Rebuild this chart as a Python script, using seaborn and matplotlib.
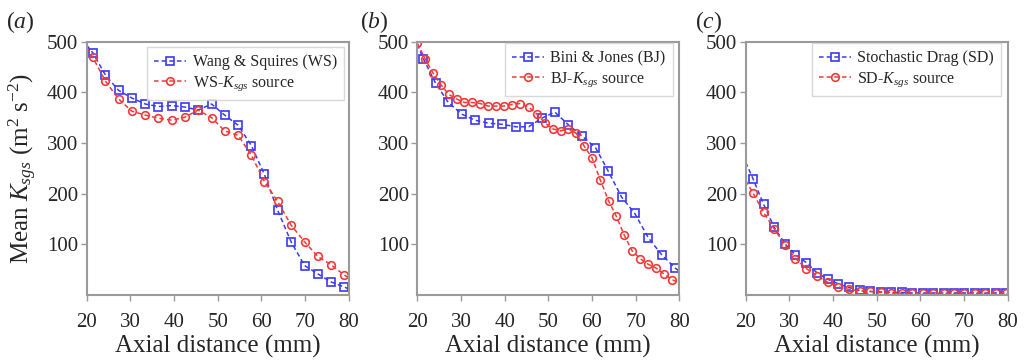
import matplotlib
matplotlib.use("Agg")
import matplotlib.pyplot as plt
import seaborn as sns

sns.set_style("white")
plt.rcParams['font.family'] = ['Liberation Serif', 'DejaVu Serif']
plt.rcParams['mathtext.fontset'] = 'custom'
plt.rcParams['mathtext.rm'] = 'Liberation Serif'
plt.rcParams['mathtext.it'] = 'Liberation Serif:italic'

# ---------------- data ----------------
# Panel (a): Wang & Squires
a_ws_x = [20.0, 21.4, 24.3, 27.3, 30.3, 33.4, 36.4, 39.5, 42.5, 45.5, 48.6, 51.6, 54.7, 57.7, 60.7, 63.7, 66.8, 69.9, 72.9, 75.9, 78.9, 80.0]
a_ws_y = [493, 478, 434, 404, 389, 377, 372, 374, 371, 365, 377, 355, 335, 295, 238, 168, 105, 58, 42, 26, 16, 12]
a_src_x = [20.0, 21.4, 24.3, 27.3, 30.3, 33.4, 36.4, 39.5, 42.5, 45.5, 48.6, 51.6, 54.7, 57.7, 60.7, 63.7, 66.8, 69.9, 72.9, 75.9, 78.9, 80.0]
a_src_y = [488, 469, 422, 387, 363, 355, 349, 345, 351, 365, 350, 324, 315, 276, 224, 185, 138, 105, 76, 60, 40, 34]

# Panel (b): Bini & Jones
b_bj_x = [20.0, 21.4, 24.2, 27.1, 30.2, 33.2, 36.4, 39.4, 42.6, 45.5, 48.5, 51.5, 54.6, 57.7, 60.8, 63.7, 66.8, 69.8, 72.9, 76.0, 79.1, 80.0]
b_bj_y = [495, 466, 418, 380, 357, 345, 339, 337, 332, 332, 349, 361, 336, 314, 291, 245, 193, 161, 113, 79, 53, 47]
b_src_x = [20.0, 21.8, 23.6, 25.4, 27.2, 29.0, 30.8, 32.6, 34.4, 36.2, 38.0, 39.9, 41.7, 43.6, 45.5, 47.4, 49.2, 51.0, 52.8, 54.6, 56.4, 58.2, 60.0, 61.9, 63.8, 65.6, 67.4, 69.2, 71.0, 72.8, 74.7, 76.6, 78.4, 80.0]
b_src_y = [497, 466, 438, 415, 396, 387, 380, 380, 378, 373, 373, 373, 376, 378, 371, 357, 340, 328, 324, 328, 319, 294, 271, 227, 186, 155, 118, 87, 72, 61, 53, 41, 30, 24]

# Panel (c): Stochastic Drag
c_sd_x = [20.0, 21.7, 24.1, 26.5, 29.0, 31.4, 33.9, 36.3, 38.8, 41.2, 43.6, 46.1, 48.5, 50.9, 53.3, 55.7, 58.1, 60.5, 62.9, 65.3, 67.7, 70.1, 72.5, 74.9, 77.3, 79.7, 80.0]
c_sd_y = [262, 229, 179, 134, 101, 79, 64, 44, 31, 22, 15, 9, 7, 6, 5, 5, 4, 4, 4, 4, 4, 4, 4, 4, 4, 4, 4]
c_src_x = [20.0, 21.7, 24.1, 26.5, 29.0, 31.4, 33.9, 36.3, 38.8, 41.2, 43.6, 46.1, 48.5, 50.9, 53.3, 55.7, 58.1, 60.5, 62.9, 65.3, 67.7, 70.1, 72.5, 74.9, 77.3, 79.7, 80.0]
c_src_y = [226, 201, 163, 131, 99, 72, 52, 38, 25, 16, 11, 8, 7, 5, 4, 3, 3, 3, 3, 3, 3, 3, 3, 3, 3, 3, 3]

panel_letters = ["a", "b", "c"]
model_labels = ["Wang & Squires (WS)", "Bini & Jones (BJ)", "Stochastic Drag (SD)"]
source_labels = ["WS-$K_{sgs}$ source", "BJ-$K_{sgs}$ source", "SD-$K_{sgs}$ source"]
model_x = [a_ws_x, b_bj_x, c_sd_x]
model_y = [a_ws_y, b_bj_y, c_sd_y]
source_x = [a_src_x, b_src_x, c_src_x]
source_y = [a_src_y, b_src_y, c_src_y]

x_ticks = [20, 30, 40, 50, 60, 70, 80]
y_ticks = [100, 200, 300, 400, 500]

BLUE = "#3a3af0"
RED = "#f03a3a"
SPINE = "#9a9a9a"

fig = plt.figure(figsize=(10.24, 3.63), dpi=100)
lefts = [86.7 / 1024, 417.3 / 1024, 745.7 / 1024]
label_x = [6 / 1024, 360 / 1024, 695 / 1024]
leg_anchor = [(0.982, 0.978), (0.975, 0.995), (0.975, 0.995)]
bottom = (363 - 295) / 363
height = (295 - 41.7) / 363
width = 262 / 1024


def markidx(xs, show_first):
    return [i for i, v in enumerate(xs)
            if (20.5 < v < 79.95) or (show_first and i == 0)]


for k in range(3):
    ax = fig.add_axes([lefts[k], bottom, width, height])
    x1, y1 = model_x[k], model_y[k]
    x2, y2 = source_x[k], source_y[k]
    sns.lineplot(x=x1, y=y1, ax=ax, color=BLUE, linestyle=(0, (3, 2)), linewidth=1.1,
                 marker='s', markersize=5.5, markerfacecolor='none', markeredgecolor=BLUE,
                 markeredgewidth=1.2, markevery=markidx(x1, False), label=model_labels[k],
                 sort=False)
    sns.lineplot(x=x2, y=y2, ax=ax, color=RED, linestyle=(0, (3, 2)), linewidth=1.1,
                 marker='o', markersize=5.5, markerfacecolor='none', markeredgecolor=RED,
                 markeredgewidth=1.2, markevery=markidx(x2, k == 1), label=source_labels[k],
                 sort=False)
    ax.set_xlim(20, 80)
    ax.set_ylim(0, 500)
    ax.set_xticks(x_ticks)
    ax.set_yticks(y_ticks)
    ax.tick_params(axis='both', direction='out', length=4, width=1, color=SPINE,
                   labelsize=15, left=True, bottom=True)
    ax.tick_params(axis='x', pad=9)
    ax.tick_params(axis='y', pad=2)
    for s in ax.spines.values():
        s.set_color(SPINE)
        s.set_linewidth(1.5)
    ax.set_xlabel("Axial distance (mm)", fontsize=18, labelpad=2)
    if k == 0:
        ax.set_ylabel("Mean $K_{sgs}$ (m$^2$ s$^{-2}$)", fontsize=18, labelpad=6)
    else:
        ax.set_ylabel("")
    leg = ax.legend(loc='upper right', bbox_to_anchor=leg_anchor[k], borderaxespad=0,
                    fontsize=11.5, frameon=True, fancybox=False, edgecolor='#d0d0d0',
                    handlelength=2.0, handletextpad=0.4, labelspacing=0.25,
                    borderpad=0.45)
    leg.get_frame().set_linewidth(1.0)
    fig.text(label_x[k], 0.975, "(" + r"$\it{" + panel_letters[k] + "}$" + ")",
             fontsize=17, va='top', ha='left')

fig.savefig("out.png", dpi=100)
